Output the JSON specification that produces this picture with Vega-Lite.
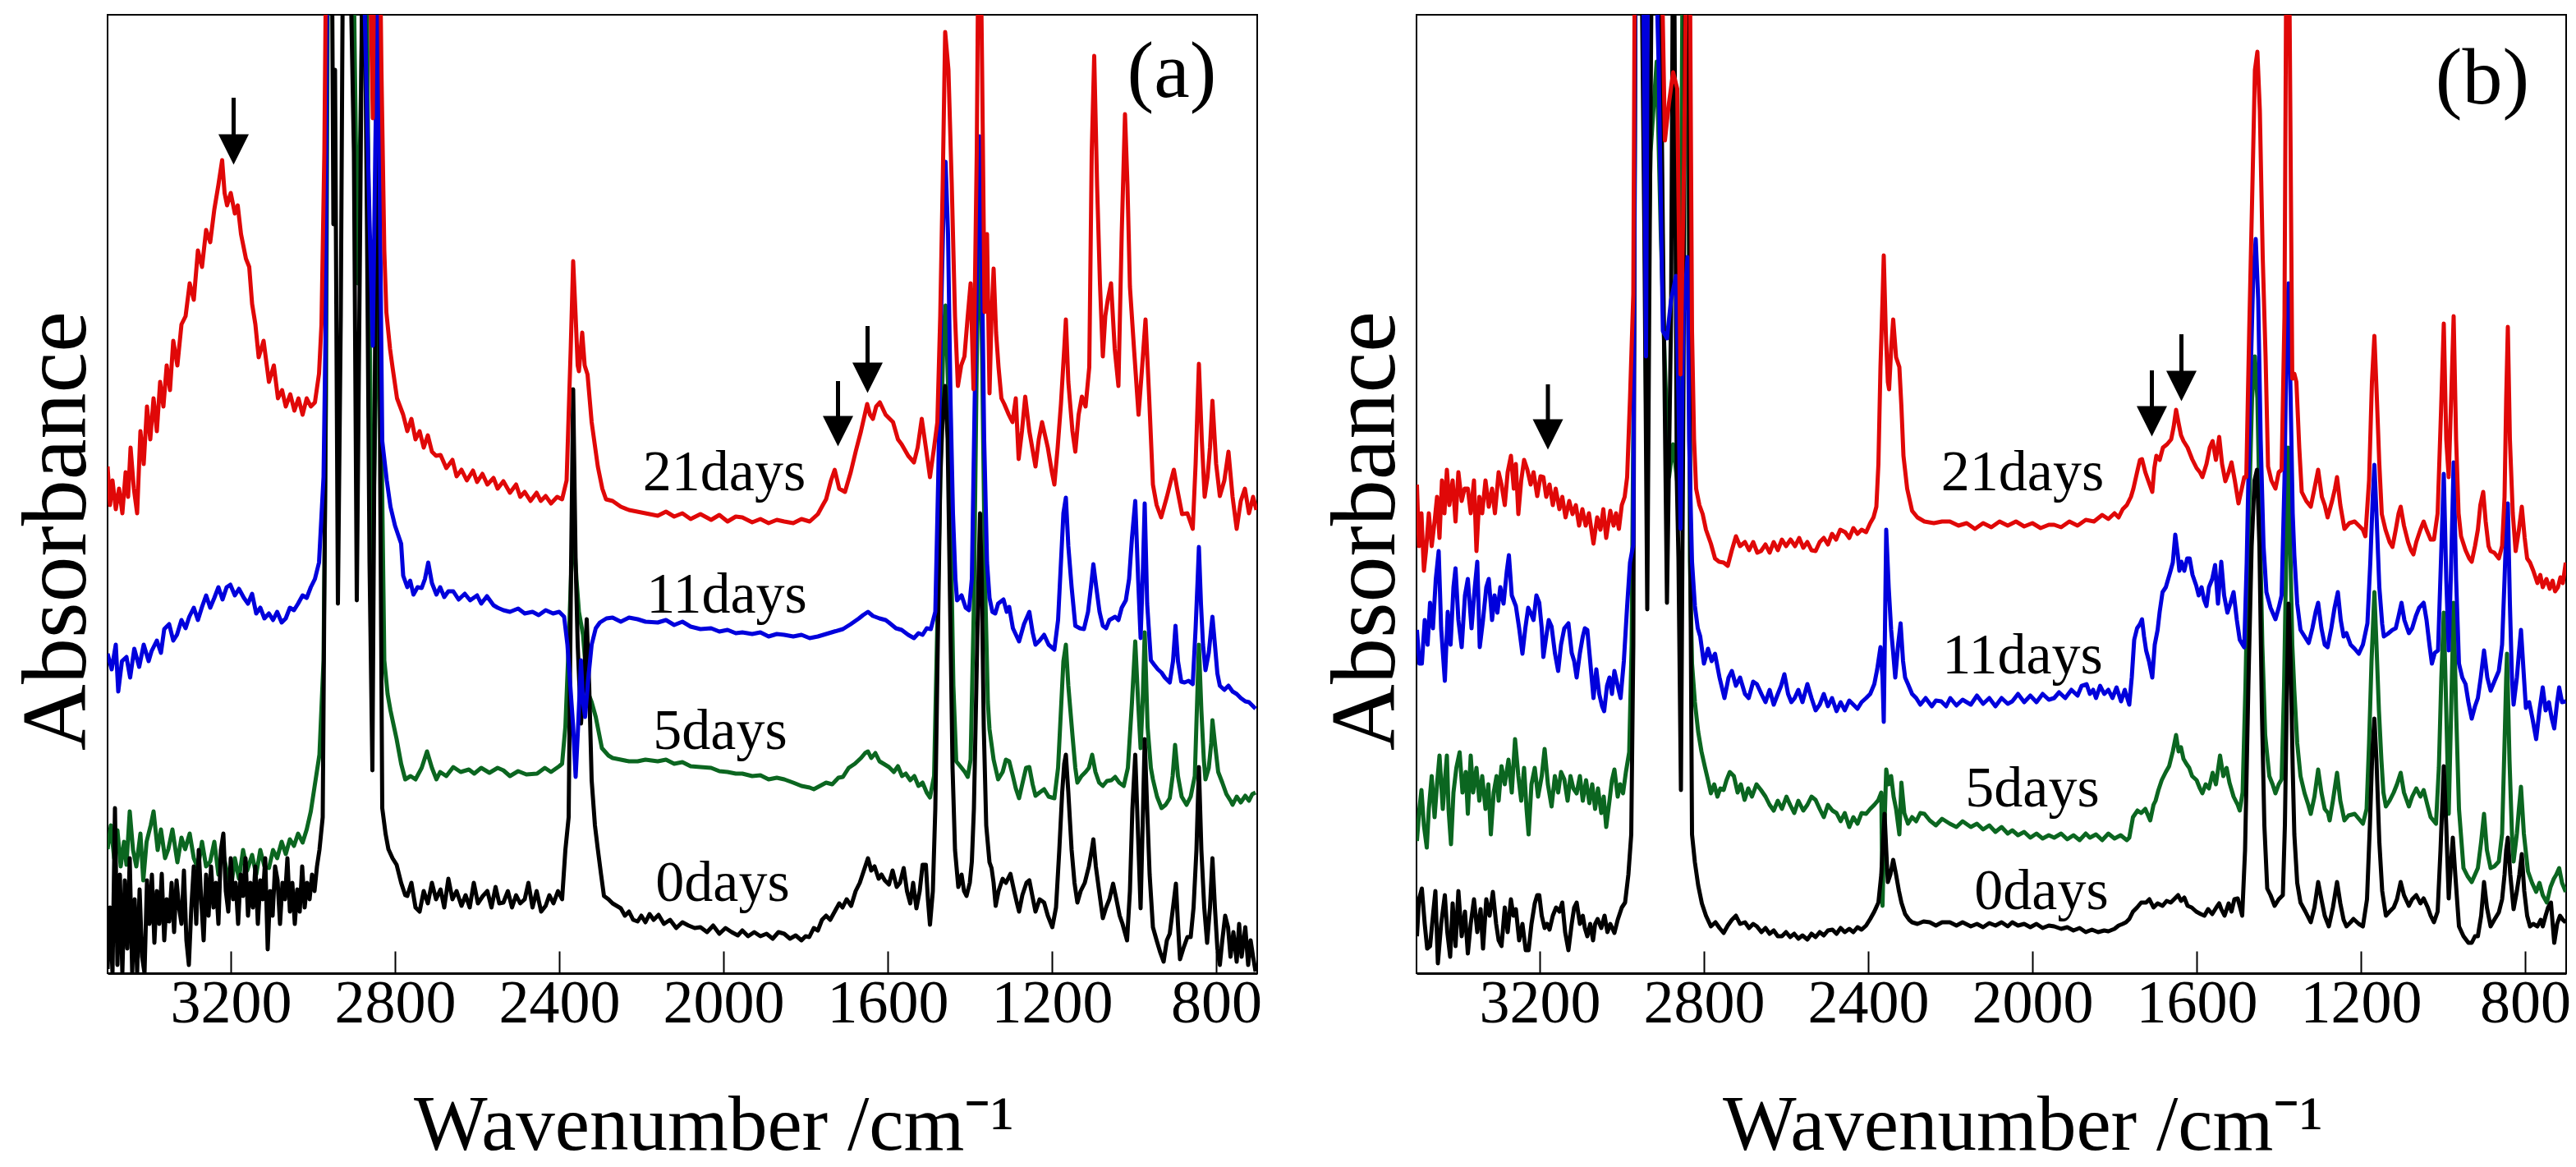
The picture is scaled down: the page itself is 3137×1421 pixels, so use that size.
{
"$schema": "https://vega.github.io/schema/vega-lite/v6.json",
"background": "white",
"padding": {"left": 12, "top": 17, "right": 5, "bottom": 5},
"spacing": 68,
"config": {
 "view": {"stroke": "#000", "strokeWidth": 2},
 "axisX": {"grid": false, "tickSize": -27, "tickWidth": 2, "tickColor": "#000", "domainColor": "#000", "domainWidth": 3, "labelFont": "Liberation Serif", "labelFontSize": 74, "labelColor": "#000", "labelPadding": 86, "labelBaseline": "alphabetic", "labelFlush": false, "format": "d", "titleFont": "Liberation Serif", "titleFontSize": 95, "titleFontWeight": "normal", "titleColor": "#000", "titleBaseline": "alphabetic", "titleX": 738, "titleY": 214},
 "axisY": {"grid": false, "ticks": false, "labels": false, "domain": false, "titleFont": "Liberation Serif", "titleFontSize": 112, "titleFontWeight": "normal", "titleColor": "#000", "titleBaseline": "alphabetic", "titleX": -28, "titleY": 628}
},
"hconcat": [
{
 "width": 1400, "height": 1167,
 "encoding": {
  "x": {"field": "w", "type": "quantitative", "title": "Wavenumber /cm⁻¹", "scale": {"domain": [700, 3500], "reverse": true, "nice": false, "zero": false}, "axis": {"values": [3200, 2800, 2400, 2000, 1600, 1200, 800]}},
  "y": {"field": "a", "type": "quantitative", "title": "Absorbance", "scale": {"domain": [0, 1167], "nice": false, "zero": false}}
 },
 "layer": [
  {"mark": {"type": "line", "color": "#0b6620", "strokeWidth": 5, "clip": true, "strokeJoin": "round"},
   "data": {"values": [
{"w":3500,"a":151},{"w":3492,"a":180},{"w":3484,"a":140},{"w":3476,"a":174},{"w":3468,"a":130},{"w":3460,"a":160},{"w":3454,"a":132},{"w":3446,"a":197},{"w":3438,"a":150},{"w":3430,"a":130},{"w":3420,"a":170},{"w":3413,"a":113},{"w":3405,"a":160},{"w":3395,"a":180},{"w":3388,"a":197},{"w":3378,"a":150},{"w":3370,"a":175},{"w":3360,"a":140},{"w":3352,"a":151},{"w":3342,"a":175},{"w":3330,"a":135},{"w":3320,"a":165},{"w":3311,"a":151},{"w":3300,"a":170},{"w":3290,"a":140},{"w":3280,"a":128},{"w":3270,"a":160},{"w":3260,"a":130},{"w":3250,"a":136},{"w":3240,"a":160},{"w":3230,"a":120},{"w":3220,"a":150},{"w":3210,"a":125},{"w":3199,"a":105},{"w":3190,"a":140},{"w":3180,"a":115},{"w":3170,"a":150},{"w":3160,"a":125},{"w":3148,"a":144},{"w":3138,"a":120},{"w":3128,"a":150},{"w":3118,"a":130},{"w":3107,"a":128},{"w":3097,"a":150},{"w":3087,"a":140},{"w":3076,"a":160},{"w":3066,"a":145},{"w":3056,"a":163},{"w":3046,"a":155},{"w":3036,"a":170},{"w":3025,"a":159},{"w":3015,"a":175},{"w":3005,"a":197},{"w":2995,"a":230},{"w":2984,"a":266},{"w":2974,"a":381},{"w":2968,"a":700},{"w":2962,"a":1400},{"w":2940,"a":1400},{"w":2920,"a":1400},{"w":2900,"a":1200},{"w":2891,"a":840},{"w":2882,"a":1100},{"w":2872,"a":1400},{"w":2862,"a":800},{"w":2855,"a":488},{"w":2847,"a":700},{"w":2840,"a":1032},{"w":2834,"a":700},{"w":2826,"a":381},{"w":2818,"a":340},{"w":2811,"a":320},{"w":2796,"a":285},{"w":2785,"a":255},{"w":2775,"a":236},{"w":2762,"a":240},{"w":2750,"a":236},{"w":2735,"a":250},{"w":2722,"a":270},{"w":2710,"a":250},{"w":2699,"a":236},{"w":2690,"a":245},{"w":2675,"a":240},{"w":2658,"a":251},{"w":2640,"a":245},{"w":2620,"a":248},{"w":2607,"a":243},{"w":2590,"a":250},{"w":2570,"a":244},{"w":2550,"a":250},{"w":2536,"a":247},{"w":2520,"a":240},{"w":2500,"a":246},{"w":2480,"a":242},{"w":2454,"a":243},{"w":2435,"a":250},{"w":2420,"a":245},{"w":2400,"a":252},{"w":2393,"a":255},{"w":2385,"a":300},{"w":2377,"a":400},{"w":2370,"a":500},{"w":2365,"a":541},{"w":2358,"a":480},{"w":2352,"a":440},{"w":2342,"a":412},{"w":2331,"a":343},{"w":2321,"a":330},{"w":2311,"a":312},{"w":2296,"a":274},{"w":2280,"a":265},{"w":2270,"a":262},{"w":2250,"a":260},{"w":2230,"a":258},{"w":2209,"a":258},{"w":2190,"a":260},{"w":2160,"a":258},{"w":2140,"a":260},{"w":2120,"a":255},{"w":2100,"a":257},{"w":2080,"a":252},{"w":2056,"a":251},{"w":2030,"a":250},{"w":2010,"a":246},{"w":1990,"a":245},{"w":1970,"a":243},{"w":1954,"a":243},{"w":1930,"a":240},{"w":1910,"a":241},{"w":1890,"a":236},{"w":1870,"a":238},{"w":1852,"a":236},{"w":1830,"a":232},{"w":1810,"a":228},{"w":1790,"a":226},{"w":1780,"a":224},{"w":1765,"a":228},{"w":1750,"a":232},{"w":1735,"a":230},{"w":1720,"a":238},{"w":1709,"a":239},{"w":1695,"a":250},{"w":1680,"a":255},{"w":1665,"a":262},{"w":1655,"a":268},{"w":1648,"a":270},{"w":1640,"a":262},{"w":1630,"a":268},{"w":1620,"a":258},{"w":1610,"a":255},{"w":1597,"a":251},{"w":1585,"a":245},{"w":1575,"a":252},{"w":1565,"a":240},{"w":1556,"a":243},{"w":1545,"a":235},{"w":1535,"a":240},{"w":1525,"a":228},{"w":1515,"a":232},{"w":1505,"a":220},{"w":1497,"a":214},{"w":1487,"a":240},{"w":1478,"a":450},{"w":1470,"a":650},{"w":1464,"a":780},{"w":1459,"a":813},{"w":1452,"a":700},{"w":1445,"a":500},{"w":1440,"a":350},{"w":1433,"a":258},{"w":1420,"a":250},{"w":1412,"a":245},{"w":1405,"a":239},{"w":1398,"a":260},{"w":1390,"a":450},{"w":1383,"a":750},{"w":1376,"a":950},{"w":1370,"a":750},{"w":1363,"a":480},{"w":1356,"a":330},{"w":1352,"a":297},{"w":1342,"a":260},{"w":1331,"a":236},{"w":1320,"a":245},{"w":1312,"a":260},{"w":1304,"a":258},{"w":1295,"a":240},{"w":1288,"a":225},{"w":1280,"a":213},{"w":1270,"a":235},{"w":1263,"a":250},{"w":1255,"a":251},{"w":1247,"a":230},{"w":1240,"a":216},{"w":1230,"a":220},{"w":1219,"a":224},{"w":1208,"a":215},{"w":1194,"a":213},{"w":1185,"a":250},{"w":1178,"a":320},{"w":1172,"a":380},{"w":1166,"a":400},{"w":1160,"a":350},{"w":1150,"a":290},{"w":1143,"a":250},{"w":1138,"a":232},{"w":1128,"a":240},{"w":1118,"a":245},{"w":1110,"a":250},{"w":1102,"a":266},{"w":1094,"a":245},{"w":1085,"a":232},{"w":1076,"a":228},{"w":1066,"a":234},{"w":1055,"a":235},{"w":1046,"a":239},{"w":1036,"a":232},{"w":1025,"a":228},{"w":1015,"a":250},{"w":1005,"a":330},{"w":997,"a":404},{"w":990,"a":330},{"w":984,"a":274},{"w":979,"a":330},{"w":974,"a":415},{"w":967,"a":300},{"w":959,"a":250},{"w":954,"a":236},{"w":944,"a":215},{"w":933,"a":201},{"w":923,"a":205},{"w":913,"a":213},{"w":906,"a":240},{"w":900,"a":278},{"w":893,"a":240},{"w":884,"a":215},{"w":872,"a":205},{"w":862,"a":215},{"w":852,"a":240},{"w":847,"a":320},{"w":842,"a":400},{"w":836,"a":320},{"w":830,"a":260},{"w":826,"a":236},{"w":818,"a":250},{"w":812,"a":280},{"w":809,"a":308},{"w":803,"a":280},{"w":795,"a":245},{"w":785,"a":232},{"w":775,"a":218},{"w":765,"a":210},{"w":760,"a":205},{"w":750,"a":215},{"w":740,"a":208},{"w":729,"a":216},{"w":720,"a":210},{"w":712,"a":218},{"w":704,"a":220}
   ]}},
  {"mark": {"type": "line", "color": "#000000", "strokeWidth": 5, "clip": true, "strokeJoin": "round"},
   "data": {"values": [
{"w":3500,"a":5},{"w":3494,"a":80},{"w":3488,"a":0},{"w":3482,"a":201},{"w":3476,"a":10},{"w":3470,"a":120},{"w":3464,"a":0},{"w":3458,"a":113},{"w":3452,"a":30},{"w":3446,"a":140},{"w":3440,"a":0},{"w":3434,"a":90},{"w":3428,"a":0},{"w":3422,"a":102},{"w":3416,"a":20},{"w":3410,"a":0},{"w":3404,"a":113},{"w":3398,"a":60},{"w":3392,"a":120},{"w":3386,"a":37},{"w":3380,"a":100},{"w":3374,"a":60},{"w":3368,"a":121},{"w":3362,"a":40},{"w":3356,"a":90},{"w":3350,"a":63},{"w":3344,"a":110},{"w":3338,"a":50},{"w":3332,"a":113},{"w":3326,"a":80},{"w":3320,"a":60},{"w":3314,"a":125},{"w":3308,"a":40},{"w":3302,"a":10},{"w":3296,"a":80},{"w":3290,"a":130},{"w":3284,"a":60},{"w":3278,"a":150},{"w":3272,"a":90},{"w":3266,"a":40},{"w":3260,"a":120},{"w":3254,"a":70},{"w":3248,"a":130},{"w":3242,"a":80},{"w":3236,"a":110},{"w":3230,"a":60},{"w":3224,"a":150},{"w":3218,"a":170},{"w":3212,"a":100},{"w":3206,"a":75},{"w":3200,"a":140},{"w":3194,"a":90},{"w":3188,"a":110},{"w":3182,"a":60},{"w":3176,"a":120},{"w":3170,"a":94},{"w":3164,"a":140},{"w":3158,"a":70},{"w":3152,"a":110},{"w":3146,"a":80},{"w":3140,"a":130},{"w":3134,"a":60},{"w":3128,"a":113},{"w":3122,"a":90},{"w":3116,"a":140},{"w":3110,"a":29},{"w":3104,"a":100},{"w":3098,"a":70},{"w":3092,"a":130},{"w":3086,"a":113},{"w":3080,"a":60},{"w":3074,"a":110},{"w":3068,"a":90},{"w":3062,"a":140},{"w":3056,"a":75},{"w":3050,"a":110},{"w":3044,"a":60},{"w":3038,"a":102},{"w":3032,"a":75},{"w":3026,"a":130},{"w":3020,"a":80},{"w":3014,"a":110},{"w":3008,"a":90},{"w":3002,"a":120},{"w":2996,"a":100},{"w":2990,"a":130},{"w":2984,"a":150},{"w":2976,"a":190},{"w":2970,"a":600},{"w":2965,"a":1400},{"w":2955,"a":1400},{"w":2950,"a":912},{"w":2946,"a":1100},{"w":2939,"a":450},{"w":2932,"a":800},{"w":2925,"a":1400},{"w":2915,"a":1400},{"w":2900,"a":1000},{"w":2893,"a":454},{"w":2885,"a":900},{"w":2877,"a":1400},{"w":2868,"a":900},{"w":2862,"a":500},{"w":2855,"a":247},{"w":2848,"a":800},{"w":2842,"a":1400},{"w":2836,"a":600},{"w":2831,"a":201},{"w":2823,"a":170},{"w":2816,"a":151},{"w":2806,"a":140},{"w":2796,"a":132},{"w":2785,"a":110},{"w":2775,"a":95},{"w":2770,"a":94},{"w":2760,"a":110},{"w":2750,"a":80},{"w":2740,"a":75},{"w":2730,"a":100},{"w":2720,"a":85},{"w":2710,"a":110},{"w":2700,"a":90},{"w":2689,"a":102},{"w":2680,"a":80},{"w":2670,"a":115},{"w":2660,"a":90},{"w":2650,"a":100},{"w":2638,"a":82},{"w":2628,"a":95},{"w":2618,"a":80},{"w":2608,"a":110},{"w":2598,"a":85},{"w":2586,"a":94},{"w":2575,"a":100},{"w":2565,"a":80},{"w":2555,"a":105},{"w":2546,"a":85},{"w":2536,"a":86},{"w":2525,"a":100},{"w":2515,"a":80},{"w":2505,"a":95},{"w":2495,"a":85},{"w":2484,"a":90},{"w":2475,"a":110},{"w":2465,"a":80},{"w":2455,"a":100},{"w":2444,"a":75},{"w":2433,"a":82},{"w":2424,"a":95},{"w":2414,"a":85},{"w":2403,"a":100},{"w":2393,"a":90},{"w":2385,"a":150},{"w":2377,"a":190},{"w":2371,"a":500},{"w":2366,"a":711},{"w":2360,"a":500},{"w":2355,"a":400},{"w":2347,"a":304},{"w":2340,"a":350},{"w":2333,"a":431},{"w":2327,"a":350},{"w":2321,"a":235},{"w":2313,"a":180},{"w":2306,"a":151},{"w":2298,"a":120},{"w":2291,"a":94},{"w":2280,"a":90},{"w":2270,"a":85},{"w":2260,"a":82},{"w":2250,"a":79},{"w":2240,"a":70},{"w":2230,"a":75},{"w":2220,"a":65},{"w":2209,"a":63},{"w":2200,"a":70},{"w":2190,"a":62},{"w":2180,"a":72},{"w":2170,"a":65},{"w":2158,"a":71},{"w":2145,"a":60},{"w":2130,"a":65},{"w":2115,"a":55},{"w":2100,"a":62},{"w":2085,"a":58},{"w":2070,"a":55},{"w":2056,"a":56},{"w":2040,"a":50},{"w":2025,"a":58},{"w":2010,"a":48},{"w":1995,"a":55},{"w":1980,"a":50},{"w":1965,"a":46},{"w":1954,"a":52},{"w":1940,"a":45},{"w":1925,"a":50},{"w":1910,"a":45},{"w":1895,"a":48},{"w":1880,"a":42},{"w":1866,"a":50},{"w":1852,"a":48},{"w":1838,"a":42},{"w":1824,"a":46},{"w":1810,"a":40},{"w":1800,"a":45},{"w":1791,"a":44},{"w":1780,"a":55},{"w":1770,"a":52},{"w":1760,"a":65},{"w":1750,"a":70},{"w":1740,"a":65},{"w":1729,"a":75},{"w":1718,"a":85},{"w":1710,"a":80},{"w":1700,"a":90},{"w":1689,"a":82},{"w":1678,"a":100},{"w":1668,"a":110},{"w":1658,"a":125},{"w":1648,"a":140},{"w":1640,"a":125},{"w":1632,"a":130},{"w":1622,"a":115},{"w":1615,"a":120},{"w":1607,"a":113},{"w":1597,"a":108},{"w":1588,"a":125},{"w":1578,"a":105},{"w":1570,"a":110},{"w":1561,"a":128},{"w":1553,"a":100},{"w":1545,"a":85},{"w":1538,"a":110},{"w":1530,"a":79},{"w":1522,"a":100},{"w":1515,"a":132},{"w":1507,"a":132},{"w":1502,"a":90},{"w":1497,"a":59},{"w":1490,"a":100},{"w":1484,"a":200},{"w":1478,"a":400},{"w":1472,"a":600},{"w":1466,"a":680},{"w":1460,"a":715},{"w":1454,"a":650},{"w":1448,"a":450},{"w":1442,"a":250},{"w":1436,"a":150},{"w":1428,"a":105},{"w":1420,"a":120},{"w":1414,"a":100},{"w":1408,"a":94},{"w":1400,"a":110},{"w":1395,"a":136},{"w":1390,"a":200},{"w":1384,"a":350},{"w":1378,"a":500},{"w":1375,"a":560},{"w":1371,"a":480},{"w":1366,"a":300},{"w":1360,"a":180},{"w":1352,"a":135},{"w":1347,"a":128},{"w":1342,"a":110},{"w":1337,"a":82},{"w":1330,"a":100},{"w":1320,"a":115},{"w":1312,"a":110},{"w":1301,"a":121},{"w":1292,"a":100},{"w":1285,"a":85},{"w":1280,"a":75},{"w":1272,"a":95},{"w":1262,"a":110},{"w":1255,"a":113},{"w":1248,"a":95},{"w":1240,"a":75},{"w":1230,"a":90},{"w":1219,"a":86},{"w":1210,"a":70},{"w":1199,"a":56},{"w":1190,"a":80},{"w":1182,"a":150},{"w":1175,"a":220},{"w":1170,"a":255},{"w":1166,"a":266},{"w":1160,"a":220},{"w":1152,"a":150},{"w":1145,"a":110},{"w":1138,"a":86},{"w":1130,"a":100},{"w":1120,"a":110},{"w":1110,"a":130},{"w":1103,"a":150},{"w":1099,"a":163},{"w":1093,"a":130},{"w":1085,"a":100},{"w":1076,"a":67},{"w":1068,"a":80},{"w":1060,"a":90},{"w":1051,"a":109},{"w":1043,"a":90},{"w":1035,"a":70},{"w":1028,"a":60},{"w":1017,"a":40},{"w":1010,"a":100},{"w":1004,"a":200},{"w":997,"a":266},{"w":991,"a":180},{"w":984,"a":79},{"w":979,"a":180},{"w":974,"a":285},{"w":968,"a":200},{"w":962,"a":120},{"w":954,"a":56},{"w":945,"a":40},{"w":936,"a":25},{"w":928,"a":14},{"w":920,"a":40},{"w":913,"a":48},{"w":905,"a":80},{"w":898,"a":109},{"w":893,"a":60},{"w":888,"a":17},{"w":880,"a":30},{"w":870,"a":44},{"w":862,"a":44},{"w":855,"a":80},{"w":848,"a":150},{"w":842,"a":251},{"w":836,"a":150},{"w":829,"a":80},{"w":822,"a":37},{"w":815,"a":80},{"w":809,"a":140},{"w":803,"a":80},{"w":797,"a":30},{"w":791,"a":10},{"w":785,"a":40},{"w":778,"a":70},{"w":771,"a":56},{"w":765,"a":20},{"w":758,"a":50},{"w":750,"a":14},{"w":744,"a":60},{"w":738,"a":20},{"w":729,"a":56},{"w":722,"a":10},{"w":716,"a":40},{"w":710,"a":20},{"w":704,"a":2}
   ]}},
  {"mark": {"type": "line", "color": "#0000dc", "strokeWidth": 5, "clip": true, "strokeJoin": "round"},
   "data": {"values": [
{"w":3500,"a":389},{"w":3490,"a":370},{"w":3480,"a":400},{"w":3474,"a":343},{"w":3465,"a":380},{"w":3454,"a":385},{"w":3445,"a":360},{"w":3435,"a":395},{"w":3423,"a":373},{"w":3412,"a":400},{"w":3400,"a":380},{"w":3393,"a":392},{"w":3380,"a":405},{"w":3370,"a":390},{"w":3362,"a":419},{"w":3350,"a":425},{"w":3340,"a":405},{"w":3331,"a":412},{"w":3320,"a":430},{"w":3310,"a":420},{"w":3301,"a":434},{"w":3290,"a":445},{"w":3280,"a":430},{"w":3270,"a":446},{"w":3260,"a":460},{"w":3250,"a":445},{"w":3240,"a":457},{"w":3230,"a":470},{"w":3220,"a":455},{"w":3210,"a":470},{"w":3201,"a":473},{"w":3190,"a":460},{"w":3180,"a":468},{"w":3168,"a":457},{"w":3158,"a":450},{"w":3148,"a":462},{"w":3138,"a":438},{"w":3128,"a":445},{"w":3118,"a":432},{"w":3107,"a":438},{"w":3097,"a":430},{"w":3087,"a":440},{"w":3076,"a":427},{"w":3066,"a":432},{"w":3056,"a":445},{"w":3046,"a":442},{"w":3036,"a":450},{"w":3025,"a":460},{"w":3015,"a":457},{"w":3005,"a":470},{"w":2995,"a":480},{"w":2985,"a":500},{"w":2974,"a":604},{"w":2969,"a":782},{"w":2964,"a":1400},{"w":2939,"a":1400},{"w":2925,"a":1400},{"w":2910,"a":1300},{"w":2893,"a":1400},{"w":2875,"a":1200},{"w":2862,"a":916},{"w":2854,"a":764},{"w":2848,"a":1000},{"w":2842,"a":1200},{"w":2836,"a":900},{"w":2831,"a":648},{"w":2820,"a":600},{"w":2811,"a":568},{"w":2800,"a":545},{"w":2785,"a":523},{"w":2780,"a":484},{"w":2770,"a":470},{"w":2763,"a":478},{"w":2755,"a":461},{"w":2745,"a":470},{"w":2735,"a":469},{"w":2727,"a":480},{"w":2719,"a":500},{"w":2710,"a":475},{"w":2699,"a":461},{"w":2690,"a":470},{"w":2680,"a":458},{"w":2670,"a":465},{"w":2658,"a":465},{"w":2645,"a":455},{"w":2630,"a":462},{"w":2617,"a":454},{"w":2600,"a":460},{"w":2590,"a":450},{"w":2576,"a":459},{"w":2560,"a":448},{"w":2550,"a":445},{"w":2536,"a":442},{"w":2520,"a":440},{"w":2500,"a":444},{"w":2484,"a":438},{"w":2465,"a":440},{"w":2450,"a":436},{"w":2433,"a":442},{"w":2415,"a":438},{"w":2400,"a":440},{"w":2388,"a":434},{"w":2380,"a":400},{"w":2372,"a":343},{"w":2366,"a":300},{"w":2360,"a":239},{"w":2354,"a":300},{"w":2347,"a":381},{"w":2342,"a":330},{"w":2337,"a":312},{"w":2329,"a":360},{"w":2321,"a":400},{"w":2311,"a":420},{"w":2301,"a":427},{"w":2285,"a":432},{"w":2270,"a":433},{"w":2250,"a":428},{"w":2230,"a":433},{"w":2209,"a":431},{"w":2190,"a":428},{"w":2160,"a":427},{"w":2140,"a":430},{"w":2120,"a":424},{"w":2100,"a":428},{"w":2080,"a":422},{"w":2056,"a":419},{"w":2030,"a":420},{"w":2010,"a":416},{"w":1990,"a":418},{"w":1970,"a":414},{"w":1954,"a":415},{"w":1930,"a":413},{"w":1910,"a":415},{"w":1890,"a":410},{"w":1870,"a":413},{"w":1852,"a":412},{"w":1830,"a":410},{"w":1810,"a":412},{"w":1790,"a":408},{"w":1770,"a":410},{"w":1750,"a":413},{"w":1730,"a":416},{"w":1709,"a":419},{"w":1690,"a":425},{"w":1670,"a":432},{"w":1660,"a":436},{"w":1648,"a":440},{"w":1636,"a":435},{"w":1620,"a":432},{"w":1605,"a":430},{"w":1597,"a":427},{"w":1580,"a":420},{"w":1566,"a":418},{"w":1550,"a":412},{"w":1536,"a":408},{"w":1525,"a":414},{"w":1515,"a":412},{"w":1505,"a":420},{"w":1495,"a":419},{"w":1484,"a":440},{"w":1477,"a":600},{"w":1470,"a":800},{"w":1463,"a":950},{"w":1459,"a":988},{"w":1453,"a":900},{"w":1447,"a":700},{"w":1441,"a":560},{"w":1435,"a":480},{"w":1431,"a":454},{"w":1420,"a":460},{"w":1410,"a":445},{"w":1402,"a":442},{"w":1395,"a":480},{"w":1388,"a":700},{"w":1381,"a":900},{"w":1376,"a":1019},{"w":1370,"a":850},{"w":1365,"a":650},{"w":1358,"a":500},{"w":1352,"a":457},{"w":1345,"a":440},{"w":1338,"a":438},{"w":1331,"a":450},{"w":1318,"a":455},{"w":1310,"a":440},{"w":1304,"a":446},{"w":1295,"a":420},{"w":1280,"a":404},{"w":1268,"a":425},{"w":1255,"a":440},{"w":1247,"a":415},{"w":1240,"a":400},{"w":1230,"a":405},{"w":1219,"a":412},{"w":1208,"a":400},{"w":1194,"a":394},{"w":1185,"a":430},{"w":1178,"a":500},{"w":1172,"a":560},{"w":1166,"a":579},{"w":1160,"a":520},{"w":1152,"a":470},{"w":1143,"a":423},{"w":1132,"a":420},{"w":1122,"a":419},{"w":1112,"a":440},{"w":1105,"a":470},{"w":1099,"a":498},{"w":1092,"a":470},{"w":1084,"a":440},{"w":1076,"a":423},{"w":1068,"a":420},{"w":1060,"a":430},{"w":1046,"a":434},{"w":1038,"a":430},{"w":1030,"a":445},{"w":1020,"a":454},{"w":1012,"a":480},{"w":1005,"a":530},{"w":997,"a":575},{"w":990,"a":480},{"w":984,"a":408},{"w":979,"a":480},{"w":974,"a":572},{"w":968,"a":450},{"w":959,"a":381},{"w":950,"a":375},{"w":942,"a":370},{"w":933,"a":366},{"w":925,"a":360},{"w":913,"a":354},{"w":905,"a":380},{"w":899,"a":423},{"w":893,"a":380},{"w":885,"a":355},{"w":877,"a":354},{"w":867,"a":356},{"w":857,"a":352},{"w":850,"a":420},{"w":845,"a":480},{"w":842,"a":519},{"w":837,"a":450},{"w":832,"a":400},{"w":826,"a":369},{"w":818,"a":390},{"w":812,"a":420},{"w":809,"a":434},{"w":803,"a":400},{"w":797,"a":365},{"w":791,"a":350},{"w":780,"a":345},{"w":770,"a":350},{"w":760,"a":343},{"w":750,"a":340},{"w":740,"a":335},{"w":729,"a":331},{"w":720,"a":330},{"w":710,"a":325},{"w":704,"a":322}
   ]}},
  {"mark": {"type": "line", "color": "#e00808", "strokeWidth": 5, "clip": true, "strokeJoin": "round"},
   "data": {"values": [
{"w":3500,"a":617},{"w":3494,"a":570},{"w":3488,"a":600},{"w":3480,"a":565},{"w":3472,"a":590},{"w":3464,"a":560},{"w":3456,"a":610},{"w":3450,"a":580},{"w":3444,"a":640},{"w":3436,"a":590},{"w":3428,"a":560},{"w":3420,"a":660},{"w":3412,"a":620},{"w":3404,"a":690},{"w":3396,"a":650},{"w":3388,"a":700},{"w":3380,"a":660},{"w":3372,"a":720},{"w":3364,"a":690},{"w":3356,"a":740},{"w":3348,"a":710},{"w":3340,"a":770},{"w":3330,"a":740},{"w":3320,"a":790},{"w":3310,"a":800},{"w":3300,"a":840},{"w":3290,"a":820},{"w":3280,"a":880},{"w":3270,"a":860},{"w":3260,"a":905},{"w":3250,"a":890},{"w":3240,"a":930},{"w":3230,"a":960},{"w":3221,"a":990},{"w":3215,"a":950},{"w":3209,"a":935},{"w":3200,"a":950},{"w":3190,"a":925},{"w":3183,"a":935},{"w":3175,"a":900},{"w":3163,"a":870},{"w":3155,"a":860},{"w":3148,"a":815},{"w":3140,"a":790},{"w":3132,"a":750},{"w":3120,"a":770},{"w":3107,"a":720},{"w":3095,"a":740},{"w":3085,"a":700},{"w":3075,"a":710},{"w":3066,"a":690},{"w":3055,"a":705},{"w":3045,"a":685},{"w":3035,"a":700},{"w":3025,"a":680},{"w":3015,"a":700},{"w":3005,"a":690},{"w":2995,"a":695},{"w":2985,"a":730},{"w":2979,"a":790},{"w":2972,"a":1000},{"w":2965,"a":1400},{"w":2950,"a":1400},{"w":2930,"a":1400},{"w":2900,"a":1400},{"w":2870,"a":1400},{"w":2860,"a":1200},{"w":2854,"a":1041},{"w":2848,"a":1400},{"w":2840,"a":1400},{"w":2833,"a":1100},{"w":2826,"a":880},{"w":2821,"a":805},{"w":2812,"a":760},{"w":2806,"a":738},{"w":2795,"a":700},{"w":2780,"a":680},{"w":2770,"a":660},{"w":2760,"a":675},{"w":2750,"a":650},{"w":2740,"a":660},{"w":2730,"a":640},{"w":2720,"a":655},{"w":2710,"a":635},{"w":2700,"a":630},{"w":2689,"a":631},{"w":2675,"a":615},{"w":2660,"a":625},{"w":2650,"a":605},{"w":2638,"a":613},{"w":2625,"a":600},{"w":2610,"a":612},{"w":2600,"a":598},{"w":2587,"a":608},{"w":2575,"a":595},{"w":2560,"a":603},{"w":2550,"a":590},{"w":2536,"a":599},{"w":2520,"a":585},{"w":2505,"a":595},{"w":2495,"a":580},{"w":2484,"a":586},{"w":2470,"a":575},{"w":2455,"a":585},{"w":2445,"a":575},{"w":2433,"a":581},{"w":2420,"a":572},{"w":2405,"a":580},{"w":2393,"a":577},{"w":2382,"a":600},{"w":2372,"a":760},{"w":2366,"a":867},{"w":2360,"a":800},{"w":2355,"a":740},{"w":2352,"a":733},{"w":2344,"a":780},{"w":2338,"a":740},{"w":2331,"a":729},{"w":2321,"a":671},{"w":2306,"a":617},{"w":2295,"a":590},{"w":2286,"a":577},{"w":2270,"a":575},{"w":2250,"a":568},{"w":2230,"a":564},{"w":2210,"a":562},{"w":2190,"a":560},{"w":2160,"a":557},{"w":2140,"a":562},{"w":2120,"a":556},{"w":2100,"a":560},{"w":2080,"a":553},{"w":2056,"a":559},{"w":2030,"a":552},{"w":2010,"a":558},{"w":1990,"a":550},{"w":1970,"a":556},{"w":1954,"a":555},{"w":1930,"a":549},{"w":1910,"a":553},{"w":1890,"a":548},{"w":1870,"a":552},{"w":1852,"a":550},{"w":1830,"a":548},{"w":1810,"a":553},{"w":1790,"a":550},{"w":1770,"a":559},{"w":1758,"a":570},{"w":1750,"a":577},{"w":1738,"a":600},{"w":1729,"a":613},{"w":1718,"a":590},{"w":1704,"a":586},{"w":1690,"a":610},{"w":1678,"a":635},{"w":1665,"a":660},{"w":1650,"a":693},{"w":1643,"a":680},{"w":1636,"a":675},{"w":1628,"a":690},{"w":1619,"a":695},{"w":1605,"a":680},{"w":1587,"a":671},{"w":1575,"a":650},{"w":1566,"a":644},{"w":1550,"a":630},{"w":1536,"a":622},{"w":1527,"a":640},{"w":1517,"a":675},{"w":1507,"a":640},{"w":1497,"a":604},{"w":1487,"a":640},{"w":1479,"a":671},{"w":1472,"a":800},{"w":1466,"a":961},{"w":1460,"a":1146},{"w":1452,"a":1100},{"w":1444,"a":961},{"w":1436,"a":800},{"w":1429,"a":715},{"w":1421,"a":740},{"w":1413,"a":751},{"w":1405,"a":800},{"w":1398,"a":840},{"w":1391,"a":711},{"w":1383,"a":1000},{"w":1377,"a":1400},{"w":1370,"a":1100},{"w":1364,"a":805},{"w":1358,"a":900},{"w":1352,"a":706},{"w":1347,"a":800},{"w":1342,"a":858},{"w":1336,"a":780},{"w":1330,"a":738},{"w":1323,"a":700},{"w":1316,"a":693},{"w":1305,"a":680},{"w":1296,"a":671},{"w":1288,"a":700},{"w":1281,"a":626},{"w":1273,"a":660},{"w":1265,"a":702},{"w":1255,"a":660},{"w":1240,"a":617},{"w":1232,"a":650},{"w":1224,"a":671},{"w":1210,"a":640},{"w":1200,"a":610},{"w":1194,"a":595},{"w":1186,"a":640},{"w":1178,"a":693},{"w":1170,"a":760},{"w":1166,"a":796},{"w":1160,"a":720},{"w":1150,"a":660},{"w":1143,"a":635},{"w":1135,"a":680},{"w":1127,"a":702},{"w":1118,"a":690},{"w":1109,"a":738},{"w":1103,"a":1000},{"w":1097,"a":1117},{"w":1090,"a":960},{"w":1083,"a":840},{"w":1076,"a":751},{"w":1070,"a":800},{"w":1064,"a":820},{"w":1056,"a":840},{"w":1047,"a":760},{"w":1038,"a":715},{"w":1030,"a":900},{"w":1022,"a":1046},{"w":1016,"a":960},{"w":1010,"a":836},{"w":1000,"a":760},{"w":989,"a":680},{"w":980,"a":740},{"w":972,"a":796},{"w":963,"a":700},{"w":954,"a":595},{"w":945,"a":570},{"w":934,"a":555},{"w":920,"a":580},{"w":910,"a":600},{"w":903,"a":613},{"w":895,"a":590},{"w":883,"a":559},{"w":870,"a":560},{"w":857,"a":541},{"w":850,"a":620},{"w":842,"a":742},{"w":835,"a":650},{"w":828,"a":580},{"w":821,"a":604},{"w":815,"a":640},{"w":809,"a":697},{"w":800,"a":620},{"w":791,"a":581},{"w":780,"a":600},{"w":770,"a":635},{"w":760,"a":580},{"w":750,"a":541},{"w":740,"a":575},{"w":730,"a":590},{"w":720,"a":560},{"w":710,"a":580},{"w":702,"a":564}
   ]}},
  {"mark": {"type": "text", "font": "Liberation Serif", "fontSize": 70, "baseline": "alphabetic", "align": "center", "color": "#000"},
   "data": {"values": [{"w":1998,"a":588,"t":"21days"},{"w":1992,"a":439,"t":"11days"},{"w":2008,"a":273,"t":"5days"},{"w":2002,"a":88,"t":"0days"}]},
   "encoding": {"text": {"field": "t"}}},
  {"mark": {"type": "text", "font": "Liberation Serif", "fontSize": 98, "baseline": "alphabetic", "align": "center", "color": "#000"},
   "data": {"values": [{"w":908,"a":1067,"t":"(a)"}]},
   "encoding": {"text": {"field": "t"}}},
  {"mark": {"type": "rule", "strokeWidth": 5, "color": "#000"},
   "data": {"values": [{"w":3193,"a":1066,"a2":1003},{"w":1721,"a":721,"a2":660},{"w":1649,"a":788,"a2":725}]},
   "encoding": {"y2": {"field": "a2"}}},
  {"mark": {"type": "point", "shape": "M-1,-1L1,-1L0,1Z", "size": 1369, "filled": true, "color": "#000", "opacity": 1, "strokeWidth": 0},
   "data": {"values": [{"w":3193,"a":1003},{"w":1721,"a":660},{"w":1649,"a":725}]}}
 ]
},
{
 "width": 1400, "height": 1167,
 "encoding": {
  "x": {"field": "w", "type": "quantitative", "title": "Wavenumber /cm⁻¹", "scale": {"domain": [700, 3500], "reverse": true, "nice": false, "zero": false}, "axis": {"values": [3200, 2800, 2400, 2000, 1600, 1200, 800]}},
  "y": {"field": "a", "type": "quantitative", "title": "Absorbance", "scale": {"domain": [0, 1167], "nice": false, "zero": false}}
 },
 "layer": [
  {"mark": {"type": "line", "color": "#0b6620", "strokeWidth": 5, "clip": true, "strokeJoin": "round"},
   "data": {"values": [
{"w":3499,"a":161},{"w":3493,"a":200},{"w":3488,"a":223},{"w":3482,"a":180},{"w":3475,"a":153},{"w":3470,"a":200},{"w":3463,"a":240},{"w":3456,"a":190},{"w":3450,"a":230},{"w":3444,"a":265},{"w":3436,"a":200},{"w":3430,"a":240},{"w":3426,"a":265},{"w":3422,"a":200},{"w":3416,"a":157},{"w":3410,"a":220},{"w":3403,"a":250},{"w":3395,"a":269},{"w":3388,"a":220},{"w":3380,"a":245},{"w":3375,"a":194},{"w":3368,"a":265},{"w":3362,"a":220},{"w":3354,"a":250},{"w":3347,"a":210},{"w":3340,"a":240},{"w":3332,"a":200},{"w":3325,"a":230},{"w":3319,"a":169},{"w":3312,"a":220},{"w":3305,"a":240},{"w":3300,"a":210},{"w":3293,"a":252},{"w":3285,"a":230},{"w":3276,"a":260},{"w":3268,"a":220},{"w":3260,"a":285},{"w":3252,"a":240},{"w":3245,"a":210},{"w":3238,"a":250},{"w":3232,"a":200},{"w":3227,"a":169},{"w":3220,"a":230},{"w":3212,"a":250},{"w":3204,"a":215},{"w":3195,"a":240},{"w":3188,"a":273},{"w":3180,"a":230},{"w":3171,"a":203},{"w":3163,"a":240},{"w":3155,"a":220},{"w":3148,"a":245},{"w":3140,"a":236},{"w":3132,"a":210},{"w":3125,"a":240},{"w":3118,"a":225},{"w":3110,"a":219},{"w":3102,"a":240},{"w":3095,"a":210},{"w":3087,"a":235},{"w":3079,"a":207},{"w":3072,"a":230},{"w":3065,"a":200},{"w":3058,"a":225},{"w":3050,"a":195},{"w":3044,"a":215},{"w":3038,"a":178},{"w":3030,"a":210},{"w":3024,"a":235},{"w":3018,"a":248},{"w":3010,"a":215},{"w":3004,"a":230},{"w":2997,"a":219},{"w":2990,"a":245},{"w":2982,"a":269},{"w":2976,"a":400},{"w":2970,"a":800},{"w":2965,"a":1400},{"w":2950,"a":1400},{"w":2941,"a":693},{"w":2930,"a":1000},{"w":2915,"a":1110},{"w":2905,"a":900},{"w":2895,"a":738},{"w":2885,"a":604},{"w":2875,"a":644},{"w":2865,"a":599},{"w":2858,"a":700},{"w":2850,"a":1400},{"w":2840,"a":1400},{"w":2834,"a":501},{"w":2829,"a":377},{"w":2822,"a":330},{"w":2814,"a":294},{"w":2806,"a":270},{"w":2798,"a":252},{"w":2790,"a":235},{"w":2783,"a":219},{"w":2775,"a":230},{"w":2767,"a":215},{"w":2760,"a":225},{"w":2752,"a":223},{"w":2745,"a":235},{"w":2737,"a":245},{"w":2727,"a":240},{"w":2718,"a":220},{"w":2710,"a":230},{"w":2701,"a":211},{"w":2692,"a":225},{"w":2683,"a":215},{"w":2672,"a":230},{"w":2661,"a":223},{"w":2650,"a":215},{"w":2640,"a":205},{"w":2630,"a":198},{"w":2620,"a":210},{"w":2610,"a":200},{"w":2599,"a":215},{"w":2590,"a":205},{"w":2580,"a":195},{"w":2570,"a":210},{"w":2558,"a":198},{"w":2548,"a":205},{"w":2538,"a":215},{"w":2528,"a":211},{"w":2518,"a":200},{"w":2508,"a":190},{"w":2498,"a":205},{"w":2487,"a":198},{"w":2477,"a":195},{"w":2467,"a":185},{"w":2457,"a":195},{"w":2446,"a":178},{"w":2436,"a":190},{"w":2426,"a":182},{"w":2416,"a":195},{"w":2405,"a":194},{"w":2395,"a":200},{"w":2385,"a":205},{"w":2375,"a":211},{"w":2368,"a":220},{"w":2365,"a":82},{"w":2362,"a":150},{"w":2356,"a":248},{"w":2350,"a":230},{"w":2344,"a":240},{"w":2338,"a":215},{"w":2332,"a":200},{"w":2324,"a":169},{"w":2319,"a":232},{"w":2312,"a":195},{"w":2303,"a":182},{"w":2293,"a":190},{"w":2283,"a":185},{"w":2273,"a":195},{"w":2263,"a":194},{"w":2250,"a":186},{"w":2235,"a":180},{"w":2220,"a":188},{"w":2201,"a":182},{"w":2185,"a":178},{"w":2170,"a":185},{"w":2150,"a":178},{"w":2135,"a":182},{"w":2120,"a":175},{"w":2105,"a":180},{"w":2090,"a":172},{"w":2075,"a":178},{"w":2060,"a":170},{"w":2049,"a":174},{"w":2035,"a":168},{"w":2020,"a":172},{"w":2005,"a":165},{"w":1990,"a":170},{"w":1975,"a":164},{"w":1960,"a":168},{"w":1947,"a":165},{"w":1930,"a":170},{"w":1915,"a":163},{"w":1900,"a":168},{"w":1885,"a":162},{"w":1870,"a":170},{"w":1860,"a":165},{"w":1845,"a":169},{"w":1830,"a":162},{"w":1815,"a":170},{"w":1800,"a":164},{"w":1785,"a":168},{"w":1770,"a":162},{"w":1764,"a":165},{"w":1755,"a":190},{"w":1744,"a":198},{"w":1735,"a":195},{"w":1725,"a":200},{"w":1713,"a":186},{"w":1705,"a":205},{"w":1700,"a":210},{"w":1693,"a":223},{"w":1685,"a":235},{"w":1675,"a":245},{"w":1667,"a":252},{"w":1658,"a":270},{"w":1650,"a":290},{"w":1644,"a":270},{"w":1638,"a":275},{"w":1632,"a":261},{"w":1625,"a":255},{"w":1618,"a":250},{"w":1611,"a":240},{"w":1600,"a":235},{"w":1592,"a":225},{"w":1586,"a":219},{"w":1578,"a":230},{"w":1570,"a":225},{"w":1561,"a":244},{"w":1553,"a":230},{"w":1543,"a":265},{"w":1535,"a":240},{"w":1527,"a":250},{"w":1520,"a":232},{"w":1510,"a":215},{"w":1500,"a":205},{"w":1495,"a":198},{"w":1488,"a":220},{"w":1481,"a":350},{"w":1473,"a":550},{"w":1465,"a":700},{"w":1458,"a":751},{"w":1452,"a":700},{"w":1446,"a":550},{"w":1440,"a":400},{"w":1433,"a":290},{"w":1423,"a":240},{"w":1415,"a":230},{"w":1408,"a":219},{"w":1400,"a":230},{"w":1393,"a":236},{"w":1387,"a":350},{"w":1382,"a":500},{"w":1377,"a":640},{"w":1372,"a":520},{"w":1367,"a":400},{"w":1362,"a":344},{"w":1355,"a":280},{"w":1347,"a":240},{"w":1337,"a":219},{"w":1328,"a":205},{"w":1322,"a":194},{"w":1313,"a":215},{"w":1304,"a":248},{"w":1296,"a":220},{"w":1288,"a":200},{"w":1280,"a":195},{"w":1276,"a":186},{"w":1268,"a":210},{"w":1258,"a":244},{"w":1250,"a":210},{"w":1240,"a":186},{"w":1230,"a":192},{"w":1215,"a":194},{"w":1205,"a":188},{"w":1195,"a":182},{"w":1186,"a":200},{"w":1180,"a":280},{"w":1174,"a":380},{"w":1167,"a":464},{"w":1162,"a":400},{"w":1156,"a":320},{"w":1150,"a":260},{"w":1145,"a":220},{"w":1139,"a":203},{"w":1130,"a":210},{"w":1120,"a":220},{"w":1112,"a":230},{"w":1103,"a":244},{"w":1095,"a":220},{"w":1083,"a":203},{"w":1075,"a":215},{"w":1065,"a":225},{"w":1055,"a":215},{"w":1047,"a":223},{"w":1038,"a":205},{"w":1030,"a":190},{"w":1017,"a":182},{"w":1010,"a":250},{"w":1004,"a":360},{"w":998,"a":439},{"w":992,"a":320},{"w":986,"a":194},{"w":981,"a":300},{"w":974,"a":451},{"w":968,"a":320},{"w":961,"a":200},{"w":950,"a":128},{"w":940,"a":118},{"w":930,"a":111},{"w":922,"a":120},{"w":915,"a":128},{"w":907,"a":160},{"w":900,"a":194},{"w":893,"a":150},{"w":884,"a":128},{"w":875,"a":130},{"w":864,"a":136},{"w":856,"a":170},{"w":850,"a":280},{"w":846,"a":360},{"w":844,"a":389},{"w":838,"a":260},{"w":832,"a":170},{"w":828,"a":136},{"w":820,"a":170},{"w":815,"a":200},{"w":810,"a":227},{"w":803,"a":170},{"w":793,"a":124},{"w":783,"a":110},{"w":773,"a":99},{"w":765,"a":110},{"w":757,"a":95},{"w":747,"a":86},{"w":738,"a":105},{"w":730,"a":115},{"w":724,"a":120},{"w":717,"a":128},{"w":710,"a":110},{"w":701,"a":99}
   ]}},
  {"mark": {"type": "line", "color": "#000000", "strokeWidth": 5, "clip": true, "strokeJoin": "round"},
   "data": {"values": [
{"w":3499,"a":45},{"w":3494,"a":90},{"w":3487,"a":103},{"w":3480,"a":60},{"w":3474,"a":30},{"w":3467,"a":33},{"w":3460,"a":70},{"w":3454,"a":100},{"w":3448,"a":12},{"w":3440,"a":60},{"w":3431,"a":95},{"w":3425,"a":50},{"w":3418,"a":20},{"w":3412,"a":85},{"w":3405,"a":33},{"w":3398,"a":100},{"w":3390,"a":45},{"w":3382,"a":75},{"w":3375,"a":24},{"w":3368,"a":60},{"w":3360,"a":90},{"w":3352,"a":50},{"w":3344,"a":78},{"w":3338,"a":30},{"w":3330,"a":90},{"w":3322,"a":70},{"w":3314,"a":99},{"w":3306,"a":60},{"w":3300,"a":40},{"w":3293,"a":33},{"w":3285,"a":80},{"w":3278,"a":50},{"w":3270,"a":90},{"w":3264,"a":70},{"w":3258,"a":78},{"w":3250,"a":40},{"w":3242,"a":60},{"w":3234,"a":28},{"w":3227,"a":28},{"w":3220,"a":60},{"w":3212,"a":85},{"w":3206,"a":95},{"w":3201,"a":95},{"w":3195,"a":70},{"w":3188,"a":55},{"w":3182,"a":60},{"w":3176,"a":53},{"w":3168,"a":70},{"w":3160,"a":80},{"w":3152,"a":75},{"w":3145,"a":86},{"w":3138,"a":50},{"w":3130,"a":28},{"w":3122,"a":60},{"w":3116,"a":80},{"w":3110,"a":86},{"w":3102,"a":60},{"w":3095,"a":70},{"w":3090,"a":55},{"w":3084,"a":45},{"w":3077,"a":60},{"w":3070,"a":40},{"w":3065,"a":60},{"w":3059,"a":66},{"w":3050,"a":55},{"w":3042,"a":70},{"w":3035,"a":50},{"w":3028,"a":60},{"w":3018,"a":49},{"w":3010,"a":65},{"w":3000,"a":80},{"w":2992,"a":86},{"w":2984,"a":120},{"w":2977,"a":169},{"w":2972,"a":400},{"w":2966,"a":1400},{"w":2955,"a":1400},{"w":2945,"a":900},{"w":2938,"a":443},{"w":2932,"a":900},{"w":2925,"a":1400},{"w":2910,"a":1400},{"w":2900,"a":900},{"w":2890,"a":451},{"w":2880,"a":800},{"w":2874,"a":1400},{"w":2866,"a":600},{"w":2862,"a":505},{"w":2856,"a":223},{"w":2850,"a":700},{"w":2844,"a":1400},{"w":2838,"a":1400},{"w":2833,"a":500},{"w":2829,"a":169},{"w":2822,"a":135},{"w":2814,"a":107},{"w":2805,"a":85},{"w":2795,"a":70},{"w":2783,"a":57},{"w":2772,"a":62},{"w":2762,"a":55},{"w":2752,"a":49},{"w":2742,"a":58},{"w":2732,"a":65},{"w":2722,"a":70},{"w":2712,"a":60},{"w":2700,"a":62},{"w":2690,"a":55},{"w":2680,"a":60},{"w":2671,"a":57},{"w":2660,"a":50},{"w":2650,"a":55},{"w":2640,"a":48},{"w":2630,"a":52},{"w":2620,"a":45},{"w":2610,"a":45},{"w":2600,"a":50},{"w":2590,"a":44},{"w":2580,"a":48},{"w":2570,"a":42},{"w":2560,"a":46},{"w":2548,"a":41},{"w":2538,"a":48},{"w":2528,"a":44},{"w":2518,"a":50},{"w":2508,"a":46},{"w":2498,"a":52},{"w":2487,"a":53},{"w":2477,"a":48},{"w":2467,"a":55},{"w":2457,"a":50},{"w":2446,"a":54},{"w":2436,"a":50},{"w":2426,"a":56},{"w":2416,"a":53},{"w":2405,"a":58},{"w":2395,"a":66},{"w":2385,"a":75},{"w":2375,"a":86},{"w":2368,"a":120},{"w":2364,"a":160},{"w":2360,"a":194},{"w":2356,"a":150},{"w":2352,"a":111},{"w":2346,"a":120},{"w":2339,"a":138},{"w":2332,"a":120},{"w":2325,"a":100},{"w":2319,"a":86},{"w":2310,"a":72},{"w":2300,"a":65},{"w":2293,"a":62},{"w":2280,"a":60},{"w":2265,"a":63},{"w":2250,"a":62},{"w":2235,"a":58},{"w":2220,"a":62},{"w":2201,"a":62},{"w":2185,"a":58},{"w":2170,"a":62},{"w":2150,"a":57},{"w":2135,"a":60},{"w":2120,"a":56},{"w":2105,"a":61},{"w":2090,"a":58},{"w":2075,"a":62},{"w":2060,"a":57},{"w":2049,"a":62},{"w":2035,"a":58},{"w":2020,"a":60},{"w":2005,"a":56},{"w":1990,"a":60},{"w":1975,"a":55},{"w":1960,"a":58},{"w":1947,"a":57},{"w":1930,"a":54},{"w":1915,"a":56},{"w":1900,"a":52},{"w":1885,"a":55},{"w":1870,"a":50},{"w":1855,"a":53},{"w":1840,"a":50},{"w":1825,"a":52},{"w":1815,"a":51},{"w":1800,"a":54},{"w":1790,"a":58},{"w":1780,"a":60},{"w":1772,"a":62},{"w":1764,"a":66},{"w":1755,"a":75},{"w":1745,"a":80},{"w":1735,"a":86},{"w":1723,"a":86},{"w":1715,"a":90},{"w":1705,"a":80},{"w":1695,"a":85},{"w":1683,"a":82},{"w":1673,"a":88},{"w":1663,"a":86},{"w":1655,"a":90},{"w":1645,"a":95},{"w":1638,"a":88},{"w":1630,"a":92},{"w":1622,"a":82},{"w":1612,"a":80},{"w":1601,"a":75},{"w":1590,"a":72},{"w":1581,"a":70},{"w":1572,"a":78},{"w":1562,"a":72},{"w":1552,"a":80},{"w":1545,"a":85},{"w":1540,"a":78},{"w":1532,"a":70},{"w":1522,"a":85},{"w":1515,"a":75},{"w":1508,"a":90},{"w":1500,"a":91},{"w":1494,"a":80},{"w":1489,"a":70},{"w":1482,"a":150},{"w":1474,"a":350},{"w":1466,"a":520},{"w":1459,"a":600},{"w":1453,"a":613},{"w":1447,"a":520},{"w":1441,"a":320},{"w":1435,"a":180},{"w":1428,"a":103},{"w":1420,"a":95},{"w":1410,"a":82},{"w":1400,"a":90},{"w":1390,"a":95},{"w":1385,"a":180},{"w":1380,"a":350},{"w":1376,"a":450},{"w":1371,"a":380},{"w":1366,"a":250},{"w":1362,"a":169},{"w":1355,"a":110},{"w":1347,"a":86},{"w":1335,"a":75},{"w":1322,"a":62},{"w":1313,"a":80},{"w":1304,"a":111},{"w":1296,"a":90},{"w":1288,"a":70},{"w":1278,"a":57},{"w":1268,"a":80},{"w":1258,"a":111},{"w":1250,"a":85},{"w":1242,"a":65},{"w":1235,"a":57},{"w":1225,"a":62},{"w":1218,"a":66},{"w":1205,"a":60},{"w":1195,"a":57},{"w":1185,"a":90},{"w":1178,"a":180},{"w":1172,"a":270},{"w":1167,"a":310},{"w":1162,"a":260},{"w":1155,"a":160},{"w":1148,"a":100},{"w":1139,"a":70},{"w":1130,"a":75},{"w":1120,"a":80},{"w":1112,"a":90},{"w":1103,"a":111},{"w":1095,"a":95},{"w":1083,"a":82},{"w":1075,"a":90},{"w":1065,"a":95},{"w":1055,"a":85},{"w":1047,"a":91},{"w":1037,"a":80},{"w":1030,"a":70},{"w":1022,"a":62},{"w":1013,"a":75},{"w":1006,"a":150},{"w":998,"a":252},{"w":992,"a":180},{"w":986,"a":91},{"w":981,"a":130},{"w":976,"a":165},{"w":970,"a":120},{"w":961,"a":57},{"w":950,"a":45},{"w":938,"a":37},{"w":930,"a":37},{"w":922,"a":45},{"w":915,"a":45},{"w":907,"a":70},{"w":900,"a":111},{"w":893,"a":80},{"w":884,"a":57},{"w":875,"a":65},{"w":864,"a":74},{"w":856,"a":90},{"w":850,"a":120},{"w":846,"a":150},{"w":842,"a":165},{"w":836,"a":120},{"w":828,"a":78},{"w":820,"a":100},{"w":814,"a":120},{"w":808,"a":145},{"w":802,"a":100},{"w":795,"a":70},{"w":788,"a":57},{"w":780,"a":60},{"w":770,"a":57},{"w":762,"a":65},{"w":757,"a":57},{"w":750,"a":70},{"w":744,"a":80},{"w":737,"a":86},{"w":729,"a":37},{"w":722,"a":60},{"w":715,"a":70},{"w":708,"a":65},{"w":701,"a":62}
   ]}},
  {"mark": {"type": "line", "color": "#0000dc", "strokeWidth": 5, "clip": true, "strokeJoin": "round"},
   "data": {"values": [
{"w":3499,"a":418},{"w":3493,"a":377},{"w":3487,"a":377},{"w":3480,"a":430},{"w":3473,"a":400},{"w":3467,"a":451},{"w":3460,"a":420},{"w":3453,"a":480},{"w":3446,"a":514},{"w":3440,"a":420},{"w":3431,"a":356},{"w":3424,"a":440},{"w":3417,"a":400},{"w":3410,"a":470},{"w":3405,"a":493},{"w":3398,"a":430},{"w":3390,"a":397},{"w":3382,"a":460},{"w":3375,"a":480},{"w":3366,"a":420},{"w":3358,"a":470},{"w":3352,"a":501},{"w":3346,"a":397},{"w":3338,"a":430},{"w":3330,"a":470},{"w":3324,"a":480},{"w":3316,"a":430},{"w":3310,"a":460},{"w":3303,"a":439},{"w":3296,"a":470},{"w":3288,"a":450},{"w":3280,"a":490},{"w":3275,"a":509},{"w":3268,"a":460},{"w":3258,"a":447},{"w":3250,"a":420},{"w":3242,"a":389},{"w":3235,"a":420},{"w":3228,"a":445},{"w":3222,"a":439},{"w":3215,"a":430},{"w":3208,"a":460},{"w":3201,"a":451},{"w":3195,"a":420},{"w":3191,"a":385},{"w":3184,"a":410},{"w":3178,"a":430},{"w":3171,"a":422},{"w":3163,"a":390},{"w":3155,"a":368},{"w":3148,"a":400},{"w":3140,"a":420},{"w":3130,"a":426},{"w":3122,"a":390},{"w":3116,"a":380},{"w":3110,"a":360},{"w":3102,"a":390},{"w":3095,"a":410},{"w":3090,"a":420},{"w":3084,"a":418},{"w":3077,"a":380},{"w":3069,"a":335},{"w":3062,"a":370},{"w":3055,"a":340},{"w":3048,"a":325},{"w":3043,"a":319},{"w":3036,"a":350},{"w":3030,"a":360},{"w":3024,"a":340},{"w":3018,"a":368},{"w":3010,"a":350},{"w":3003,"a":335},{"w":2995,"a":380},{"w":2987,"a":447},{"w":2980,"a":500},{"w":2972,"a":522},{"w":2966,"a":1400},{"w":2950,"a":1400},{"w":2941,"a":751},{"w":2935,"a":1400},{"w":2925,"a":1400},{"w":2910,"a":1100},{"w":2900,"a":782},{"w":2890,"a":773},{"w":2880,"a":820},{"w":2868,"a":849},{"w":2862,"a":700},{"w":2857,"a":541},{"w":2850,"a":800},{"w":2840,"a":872},{"w":2836,"a":648},{"w":2829,"a":501},{"w":2822,"a":447},{"w":2815,"a":420},{"w":2809,"a":410},{"w":2800,"a":377},{"w":2790,"a":395},{"w":2781,"a":380},{"w":2773,"a":389},{"w":2762,"a":360},{"w":2750,"a":335},{"w":2740,"a":360},{"w":2732,"a":368},{"w":2722,"a":350},{"w":2712,"a":360},{"w":2700,"a":340},{"w":2691,"a":335},{"w":2680,"a":355},{"w":2671,"a":352},{"w":2660,"a":340},{"w":2650,"a":330},{"w":2640,"a":345},{"w":2630,"a":327},{"w":2620,"a":340},{"w":2612,"a":350},{"w":2604,"a":364},{"w":2595,"a":340},{"w":2587,"a":330},{"w":2579,"a":335},{"w":2570,"a":345},{"w":2560,"a":330},{"w":2548,"a":352},{"w":2538,"a":335},{"w":2528,"a":320},{"w":2518,"a":327},{"w":2508,"a":340},{"w":2498,"a":325},{"w":2488,"a":335},{"w":2477,"a":319},{"w":2467,"a":330},{"w":2457,"a":320},{"w":2446,"a":332},{"w":2436,"a":327},{"w":2426,"a":322},{"w":2416,"a":330},{"w":2405,"a":335},{"w":2395,"a":340},{"w":2385,"a":352},{"w":2378,"a":370},{"w":2370,"a":397},{"w":2365,"a":360},{"w":2362,"a":306},{"w":2359,"a":420},{"w":2356,"a":540},{"w":2350,"a":470},{"w":2344,"a":418},{"w":2339,"a":390},{"w":2334,"a":360},{"w":2327,"a":400},{"w":2321,"a":426},{"w":2315,"a":380},{"w":2310,"a":360},{"w":2303,"a":352},{"w":2293,"a":340},{"w":2283,"a":335},{"w":2273,"a":327},{"w":2260,"a":335},{"w":2245,"a":325},{"w":2235,"a":332},{"w":2222,"a":331},{"w":2210,"a":325},{"w":2200,"a":335},{"w":2185,"a":326},{"w":2170,"a":333},{"w":2150,"a":327},{"w":2135,"a":338},{"w":2120,"a":328},{"w":2105,"a":335},{"w":2090,"a":325},{"w":2075,"a":335},{"w":2060,"a":328},{"w":2049,"a":331},{"w":2035,"a":340},{"w":2020,"a":330},{"w":2005,"a":338},{"w":1990,"a":330},{"w":1975,"a":340},{"w":1960,"a":333},{"w":1947,"a":335},{"w":1935,"a":342},{"w":1920,"a":335},{"w":1905,"a":345},{"w":1890,"a":338},{"w":1880,"a":350},{"w":1868,"a":352},{"w":1860,"a":340},{"w":1852,"a":345},{"w":1845,"a":335},{"w":1835,"a":350},{"w":1825,"a":340},{"w":1815,"a":345},{"w":1805,"a":335},{"w":1795,"a":348},{"w":1784,"a":331},{"w":1775,"a":345},{"w":1764,"a":327},{"w":1758,"a":360},{"w":1752,"a":406},{"w":1745,"a":420},{"w":1738,"a":425},{"w":1733,"a":431},{"w":1728,"a":410},{"w":1723,"a":393},{"w":1716,"a":380},{"w":1708,"a":360},{"w":1702,"a":400},{"w":1695,"a":418},{"w":1690,"a":440},{"w":1683,"a":464},{"w":1675,"a":470},{"w":1664,"a":489},{"w":1658,"a":500},{"w":1652,"a":534},{"w":1646,"a":510},{"w":1642,"a":490},{"w":1637,"a":501},{"w":1630,"a":490},{"w":1623,"a":505},{"w":1617,"a":505},{"w":1610,"a":485},{"w":1601,"a":472},{"w":1595,"a":460},{"w":1588,"a":470},{"w":1582,"a":455},{"w":1576,"a":447},{"w":1570,"a":470},{"w":1562,"a":480},{"w":1555,"a":497},{"w":1548,"a":450},{"w":1540,"a":501},{"w":1533,"a":460},{"w":1525,"a":439},{"w":1518,"a":450},{"w":1510,"a":464},{"w":1502,"a":430},{"w":1495,"a":406},{"w":1488,"a":400},{"w":1484,"a":397},{"w":1478,"a":500},{"w":1470,"a":700},{"w":1462,"a":850},{"w":1456,"a":894},{"w":1450,"a":820},{"w":1444,"a":650},{"w":1437,"a":520},{"w":1430,"a":464},{"w":1420,"a":445},{"w":1408,"a":431},{"w":1400,"a":445},{"w":1393,"a":460},{"w":1386,"a":600},{"w":1380,"a":800},{"w":1376,"a":840},{"w":1371,"a":700},{"w":1366,"a":560},{"w":1362,"a":509},{"w":1355,"a":450},{"w":1347,"a":418},{"w":1337,"a":410},{"w":1327,"a":402},{"w":1318,"a":420},{"w":1310,"a":440},{"w":1304,"a":451},{"w":1296,"a":420},{"w":1288,"a":400},{"w":1281,"a":397},{"w":1272,"a":420},{"w":1264,"a":445},{"w":1256,"a":464},{"w":1249,"a":430},{"w":1242,"a":410},{"w":1235,"a":414},{"w":1225,"a":400},{"w":1215,"a":395},{"w":1205,"a":389},{"w":1195,"a":400},{"w":1184,"a":426},{"w":1177,"a":500},{"w":1171,"a":580},{"w":1167,"a":619},{"w":1162,"a":560},{"w":1155,"a":470},{"w":1148,"a":425},{"w":1144,"a":410},{"w":1135,"a":413},{"w":1123,"a":418},{"w":1115,"a":420},{"w":1108,"a":435},{"w":1101,"a":451},{"w":1094,"a":430},{"w":1083,"a":414},{"w":1075,"a":420},{"w":1066,"a":435},{"w":1058,"a":445},{"w":1047,"a":451},{"w":1040,"a":430},{"w":1033,"a":400},{"w":1027,"a":377},{"w":1020,"a":390},{"w":1012,"a":393},{"w":1005,"a":500},{"w":998,"a":608},{"w":992,"a":480},{"w":986,"a":393},{"w":981,"a":480},{"w":974,"a":622},{"w":968,"a":480},{"w":961,"a":377},{"w":953,"a":360},{"w":945,"a":352},{"w":938,"a":330},{"w":930,"a":310},{"w":922,"a":325},{"w":915,"a":335},{"w":908,"a":360},{"w":900,"a":393},{"w":892,"a":360},{"w":884,"a":344},{"w":875,"a":355},{"w":864,"a":368},{"w":856,"a":400},{"w":850,"a":480},{"w":846,"a":540},{"w":842,"a":572},{"w":837,"a":450},{"w":832,"a":360},{"w":828,"a":327},{"w":820,"a":360},{"w":815,"a":390},{"w":810,"a":418},{"w":804,"a":370},{"w":798,"a":323},{"w":790,"a":330},{"w":782,"a":310},{"w":773,"a":285},{"w":765,"a":320},{"w":757,"a":348},{"w":750,"a":320},{"w":742,"a":330},{"w":735,"a":310},{"w":729,"a":298},{"w":722,"a":330},{"w":717,"a":348},{"w":710,"a":330},{"w":701,"a":331}
   ]}},
  {"mark": {"type": "line", "color": "#e00808", "strokeWidth": 5, "clip": true, "strokeJoin": "round"},
   "data": {"values": [
{"w":3499,"a":595},{"w":3494,"a":520},{"w":3488,"a":560},{"w":3482,"a":490},{"w":3477,"a":514},{"w":3470,"a":560},{"w":3463,"a":520},{"w":3456,"a":550},{"w":3450,"a":580},{"w":3444,"a":530},{"w":3438,"a":600},{"w":3432,"a":560},{"w":3426,"a":613},{"w":3420,"a":570},{"w":3412,"a":600},{"w":3405,"a":550},{"w":3398,"a":610},{"w":3390,"a":575},{"w":3383,"a":590},{"w":3375,"a":590},{"w":3368,"a":560},{"w":3360,"a":600},{"w":3354,"a":514},{"w":3347,"a":580},{"w":3340,"a":560},{"w":3332,"a":600},{"w":3324,"a":568},{"w":3316,"a":590},{"w":3309,"a":560},{"w":3300,"a":610},{"w":3293,"a":595},{"w":3285,"a":570},{"w":3278,"a":610},{"w":3270,"a":630},{"w":3263,"a":590},{"w":3258,"a":620},{"w":3252,"a":559},{"w":3245,"a":600},{"w":3238,"a":625},{"w":3230,"a":613},{"w":3222,"a":595},{"w":3215,"a":610},{"w":3206,"a":581},{"w":3198,"a":605},{"w":3191,"a":604},{"w":3184,"a":580},{"w":3176,"a":595},{"w":3168,"a":570},{"w":3161,"a":590},{"w":3152,"a":565},{"w":3145,"a":580},{"w":3137,"a":555},{"w":3128,"a":575},{"w":3120,"a":559},{"w":3112,"a":570},{"w":3104,"a":545},{"w":3096,"a":565},{"w":3088,"a":545},{"w":3080,"a":560},{"w":3069,"a":523},{"w":3060,"a":555},{"w":3052,"a":540},{"w":3045,"a":565},{"w":3038,"a":530},{"w":3028,"a":563},{"w":3020,"a":545},{"w":3014,"a":560},{"w":3007,"a":541},{"w":3000,"a":570},{"w":2993,"a":580},{"w":2987,"a":604},{"w":2980,"a":700},{"w":2972,"a":827},{"w":2967,"a":1400},{"w":2940,"a":1400},{"w":2920,"a":1400},{"w":2905,"a":1300},{"w":2895,"a":1014},{"w":2885,"a":1060},{"w":2875,"a":1097},{"w":2865,"a":1077},{"w":2857,"a":729},{"w":2848,"a":1000},{"w":2840,"a":1400},{"w":2836,"a":1400},{"w":2829,"a":782},{"w":2824,"a":650},{"w":2819,"a":590},{"w":2811,"a":570},{"w":2803,"a":559},{"w":2795,"a":540},{"w":2783,"a":523},{"w":2773,"a":505},{"w":2763,"a":501},{"w":2752,"a":500},{"w":2742,"a":496},{"w":2732,"a":515},{"w":2722,"a":532},{"w":2712,"a":520},{"w":2700,"a":525},{"w":2690,"a":515},{"w":2680,"a":525},{"w":2670,"a":512},{"w":2661,"a":514},{"w":2650,"a":522},{"w":2640,"a":512},{"w":2630,"a":525},{"w":2620,"a":515},{"w":2610,"a":528},{"w":2600,"a":520},{"w":2589,"a":528},{"w":2578,"a":520},{"w":2568,"a":530},{"w":2558,"a":518},{"w":2548,"a":525},{"w":2538,"a":515},{"w":2528,"a":514},{"w":2518,"a":525},{"w":2508,"a":530},{"w":2498,"a":522},{"w":2488,"a":535},{"w":2478,"a":528},{"w":2468,"a":540},{"w":2456,"a":537},{"w":2446,"a":530},{"w":2436,"a":542},{"w":2426,"a":535},{"w":2416,"a":540},{"w":2405,"a":537},{"w":2395,"a":548},{"w":2387,"a":555},{"w":2380,"a":568},{"w":2375,"a":620},{"w":2370,"a":738},{"w":2365,"a":820},{"w":2362,"a":874},{"w":2357,"a":780},{"w":2352,"a":720},{"w":2349,"a":711},{"w":2344,"a":760},{"w":2339,"a":796},{"w":2332,"a":750},{"w":2324,"a":738},{"w":2319,"a":690},{"w":2314,"a":630},{"w":2305,"a":590},{"w":2293,"a":563},{"w":2280,"a":555},{"w":2263,"a":550},{"w":2240,"a":548},{"w":2220,"a":550},{"w":2201,"a":550},{"w":2180,"a":545},{"w":2160,"a":548},{"w":2140,"a":541},{"w":2120,"a":548},{"w":2100,"a":543},{"w":2080,"a":550},{"w":2060,"a":545},{"w":2040,"a":550},{"w":2020,"a":544},{"w":2000,"a":548},{"w":1980,"a":542},{"w":1960,"a":546},{"w":1947,"a":546},{"w":1930,"a":543},{"w":1910,"a":550},{"w":1890,"a":545},{"w":1870,"a":552},{"w":1850,"a":550},{"w":1830,"a":558},{"w":1815,"a":553},{"w":1800,"a":560},{"w":1790,"a":555},{"w":1780,"a":565},{"w":1770,"a":570},{"w":1760,"a":580},{"w":1754,"a":590},{"w":1745,"a":610},{"w":1738,"a":625},{"w":1733,"a":626},{"w":1725,"a":610},{"w":1718,"a":600},{"w":1708,"a":586},{"w":1703,"a":615},{"w":1698,"a":630},{"w":1690,"a":625},{"w":1682,"a":640},{"w":1672,"a":644},{"w":1662,"a":650},{"w":1656,"a":665},{"w":1650,"a":686},{"w":1644,"a":670},{"w":1638,"a":655},{"w":1632,"a":648},{"w":1622,"a":640},{"w":1611,"a":626},{"w":1600,"a":615},{"w":1592,"a":610},{"w":1586,"a":604},{"w":1576,"a":620},{"w":1568,"a":640},{"w":1561,"a":648},{"w":1553,"a":625},{"w":1545,"a":653},{"w":1538,"a":620},{"w":1530,"a":599},{"w":1522,"a":610},{"w":1515,"a":622},{"w":1507,"a":600},{"w":1498,"a":572},{"w":1490,"a":590},{"w":1484,"a":604},{"w":1479,"a":604},{"w":1472,"a":780},{"w":1464,"a":961},{"w":1458,"a":1100},{"w":1452,"a":1122},{"w":1446,"a":1050},{"w":1439,"a":872},{"w":1432,"a":750},{"w":1426,"a":617},{"w":1418,"a":600},{"w":1408,"a":590},{"w":1400,"a":610},{"w":1393,"a":613},{"w":1386,"a":800},{"w":1380,"a":1400},{"w":1374,"a":1200},{"w":1367,"a":724},{"w":1362,"a":730},{"w":1357,"a":720},{"w":1350,"a":640},{"w":1344,"a":586},{"w":1333,"a":575},{"w":1322,"a":568},{"w":1313,"a":590},{"w":1304,"a":613},{"w":1295,"a":580},{"w":1288,"a":570},{"w":1281,"a":555},{"w":1270,"a":575},{"w":1263,"a":590},{"w":1258,"a":604},{"w":1250,"a":570},{"w":1240,"a":541},{"w":1228,"a":548},{"w":1215,"a":550},{"w":1205,"a":545},{"w":1195,"a":540},{"w":1189,"a":532},{"w":1180,"a":600},{"w":1173,"a":720},{"w":1167,"a":776},{"w":1161,"a":700},{"w":1155,"a":620},{"w":1149,"a":559},{"w":1140,"a":540},{"w":1130,"a":525},{"w":1123,"a":519},{"w":1115,"a":540},{"w":1108,"a":560},{"w":1103,"a":568},{"w":1095,"a":545},{"w":1085,"a":525},{"w":1078,"a":515},{"w":1072,"a":510},{"w":1065,"a":525},{"w":1055,"a":540},{"w":1047,"a":550},{"w":1040,"a":540},{"w":1030,"a":528},{"w":1022,"a":528},{"w":1013,"a":560},{"w":1005,"a":680},{"w":998,"a":791},{"w":992,"a":650},{"w":986,"a":604},{"w":980,"a":700},{"w":974,"a":800},{"w":968,"a":650},{"w":962,"a":560},{"w":956,"a":532},{"w":945,"a":515},{"w":936,"a":505},{"w":930,"a":501},{"w":922,"a":520},{"w":915,"a":540},{"w":909,"a":570},{"w":902,"a":586},{"w":896,"a":550},{"w":889,"a":520},{"w":884,"a":514},{"w":875,"a":512},{"w":864,"a":505},{"w":856,"a":520},{"w":850,"a":580},{"w":846,"a":700},{"w":842,"a":787},{"w":837,"a":650},{"w":830,"a":560},{"w":823,"a":514},{"w":815,"a":540},{"w":808,"a":568},{"w":801,"a":530},{"w":795,"a":505},{"w":788,"a":500},{"w":780,"a":490},{"w":770,"a":475},{"w":763,"a":485},{"w":757,"a":470},{"w":748,"a":480},{"w":740,"a":468},{"w":733,"a":478},{"w":727,"a":465},{"w":720,"a":470},{"w":714,"a":482},{"w":708,"a":475},{"w":701,"a":500}
   ]}},
  {"mark": {"type": "text", "font": "Liberation Serif", "fontSize": 70, "baseline": "alphabetic", "align": "center", "color": "#000"},
   "data": {"values": [{"w":2024,"a":588,"t":"21days"},{"w":2024,"a":365,"t":"11days"},{"w":2000,"a":203,"t":"5days"},{"w":1978,"a":78,"t":"0days"}]},
   "encoding": {"text": {"field": "t"}}},
  {"mark": {"type": "text", "font": "Liberation Serif", "fontSize": 98, "baseline": "alphabetic", "align": "center", "color": "#000"},
   "data": {"values": [{"w":904,"a":1059,"t":"(b)"}]},
   "encoding": {"text": {"field": "t"}}},
  {"mark": {"type": "rule", "strokeWidth": 5, "color": "#000"},
   "data": {"values": [{"w":3180,"a":717,"a2":656},{"w":1709,"a":734,"a2":672},{"w":1637,"a":778,"a2":715}]},
   "encoding": {"y2": {"field": "a2"}}},
  {"mark": {"type": "point", "shape": "M-1,-1L1,-1L0,1Z", "size": 1369, "filled": true, "color": "#000", "opacity": 1, "strokeWidth": 0},
   "data": {"values": [{"w":3180,"a":656},{"w":1709,"a":672},{"w":1637,"a":715}]}}
 ]
}
]
}
